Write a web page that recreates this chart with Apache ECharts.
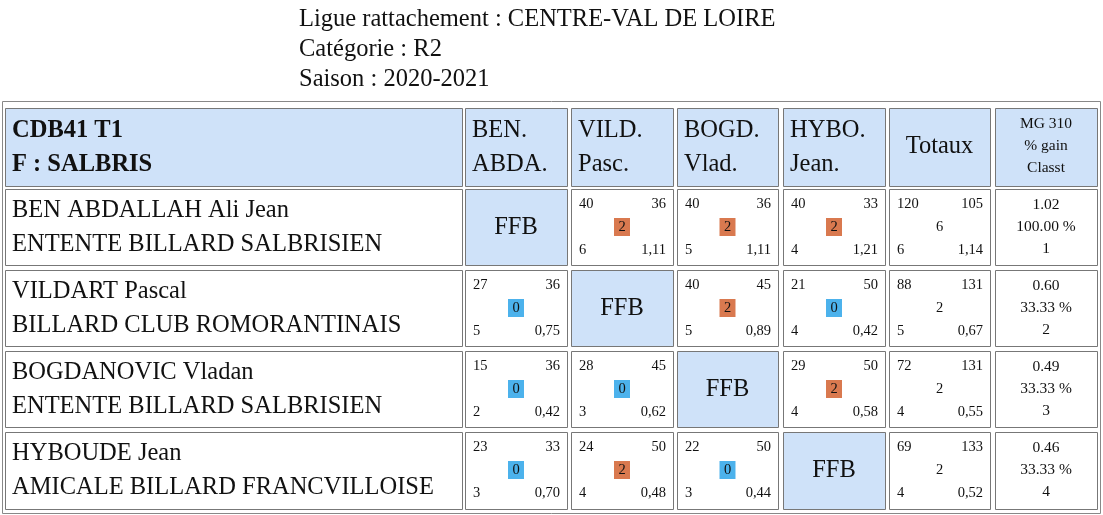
<!DOCTYPE html>
<html><head><meta charset="utf-8">
<script src="https://cdn.jsdelivr.net/npm/echarts@6/dist/echarts.min.js"></script>
<style>html,body{margin:0;background:#fff}#container{width:1103px;height:515px}</style>
</head><body><div id="container"></div>
<script>
var dom = document.getElementById("container");
var myChart = echarts.init(dom);

var titleLines = ['Ligue rattachement : CENTRE-VAL DE LOIRE', 'Catégorie : R2', 'Saison : 2020-2021'];
var headerTitle = ['CDB41 T1', 'F : SALBRIS'];
var shortNames = [['BEN.', 'ABDA.'], ['VILD.', 'Pasc.'], ['BOGD.', 'Vlad.'], ['HYBO.', 'Jean.']];
var players = ['BEN ABDALLAH Ali Jean', 'VILDART Pascal', 'BOGDANOVIC Vladan', 'HYBOUDE Jean'];
var clubs = ['ENTENTE BILLARD SALBRISIEN', 'BILLARD CLUB ROMORANTINAIS', 'ENTENTE BILLARD SALBRISIEN', 'AMICALE BILLARD FRANCVILLOISE'];
// [points, distance, score, reprises, moyenne], null = same player
var matches = [
    [null, [40, 36, 2, 6, '1,11'], [40, 36, 2, 5, '1,11'], [40, 33, 2, 4, '1,21']],
    [[27, 36, 0, 5, '0,75'], null, [40, 45, 2, 5, '0,89'], [21, 50, 0, 4, '0,42']],
    [[15, 36, 0, 2, '0,42'], [28, 45, 0, 3, '0,62'], null, [29, 50, 2, 4, '0,58']],
    [[23, 33, 0, 3, '0,70'], [24, 50, 2, 4, '0,48'], [22, 50, 0, 3, '0,44'], null]
];
var totals = [
    [120, 105, 6, 6, '1,14'],
    [88, 131, 2, 5, '0,67'],
    [72, 131, 2, 4, '0,55'],
    [69, 133, 2, 4, '0,52']
];
var mg = [['1.02', '100.00 %', '1'], ['0.60', '33.33 %', '2'], ['0.49', '33.33 %', '3'], ['0.46', '33.33 %', '4']];

var colX = [[5, 462], [465, 567], [571, 673], [677, 778], [783, 885], [889, 990], [995, 1097]];
var rowY = [[108, 186], [189, 265], [270, 346], [351, 427], [432, 509]];
var FONT = '"Liberation Serif", "Times New Roman", serif';
var BLUE = '#cfe2f9', WIN = '#d9794f', LOSS = '#4cb2ec';
var BIG = 24.5, SMALL = 14.5, MID = 15.5;

var els = [];
function cell(c, r, fill) {
    els.push({type: 'rect', shape: {x: colX[c][0] + 0.5, y: rowY[r][0] + 0.5, width: colX[c][1] - colX[c][0], height: rowY[r][1] - rowY[r][0]},
        style: {fill: fill || '#fff', stroke: '#777', lineWidth: 1}});
}
function txt(x, y, s, size, align, bold) {
    els.push({type: 'text', x: x, y: y, style: {text: String(s), font: (bold ? 'bold ' : '') + size + 'px ' + FONT,
        fill: '#111', align: align || 'left', verticalAlign: 'middle'}});
}
function scoreCell(c, r, d, badge) {
    var x0 = colX[c][0], x1 = colX[c][1], y0 = rowY[r][0];
    var cx = (x0 + x1) / 2;
    txt(x0 + 8, y0 + 15, d[0], SMALL);
    txt(x1 - 7, y0 + 15, d[1], SMALL, 'right');
    txt(x0 + 8, y0 + 61, d[3], SMALL);
    txt(x1 - 7, y0 + 61, d[4], SMALL, 'right');
    if (badge) {
        els.push({type: 'rect', shape: {x: cx - 8, y: y0 + 29, width: 16, height: 18},
            style: {fill: d[2] > 0 ? WIN : LOSS}});
    }
    txt(cx, y0 + 38, d[2], SMALL, 'center');
}

els.push({type: 'rect', shape: {x: 2.5, y: 101.5, width: 1098, height: 412}, style: {fill: 'none', stroke: '#888', lineWidth: 1}});
titleLines.forEach(function (t, i) { txt(299, 20 + i * 30, t, BIG); });

// header
cell(0, 0, BLUE);
txt(12, 131, headerTitle[0], BIG, 'left', true);
txt(12, 165, headerTitle[1], BIG, 'left', true);
shortNames.forEach(function (n, i) {
    cell(i + 1, 0, BLUE);
    txt(colX[i + 1][0] + 7, 131, n[0], BIG);
    txt(colX[i + 1][0] + 7, 165, n[1], BIG);
});
cell(5, 0, BLUE);
txt((colX[5][0] + colX[5][1]) / 2, 147, 'Totaux', BIG, 'center');
cell(6, 0, BLUE);
['MG 310', '% gain', 'Classt'].forEach(function (t, i) { txt((colX[6][0] + colX[6][1]) / 2, 124 + i * 22, t, MID, 'center'); });

players.forEach(function (p, i) {
    var r = i + 1, y0 = rowY[r][0];
    cell(0, r);
    txt(12, y0 + 22, p, BIG);
    txt(12, y0 + 56, clubs[i], BIG);
    matches[i].forEach(function (m, j) {
        if (m === null) {
            cell(j + 1, r, BLUE);
            txt((colX[j + 1][0] + colX[j + 1][1]) / 2, y0 + 39, 'FFB', BIG, 'center');
        } else {
            cell(j + 1, r);
            scoreCell(j + 1, r, m, true);
        }
    });
    cell(5, r);
    scoreCell(5, r, totals[i], false);
    cell(6, r);
    mg[i].forEach(function (t, k) { txt((colX[6][0] + colX[6][1]) / 2, y0 + 16 + k * 22, t, MID, 'center'); });
});

var option = { animation: false, graphic: { elements: els } };
myChart.setOption(option, true);
</script></body></html>
